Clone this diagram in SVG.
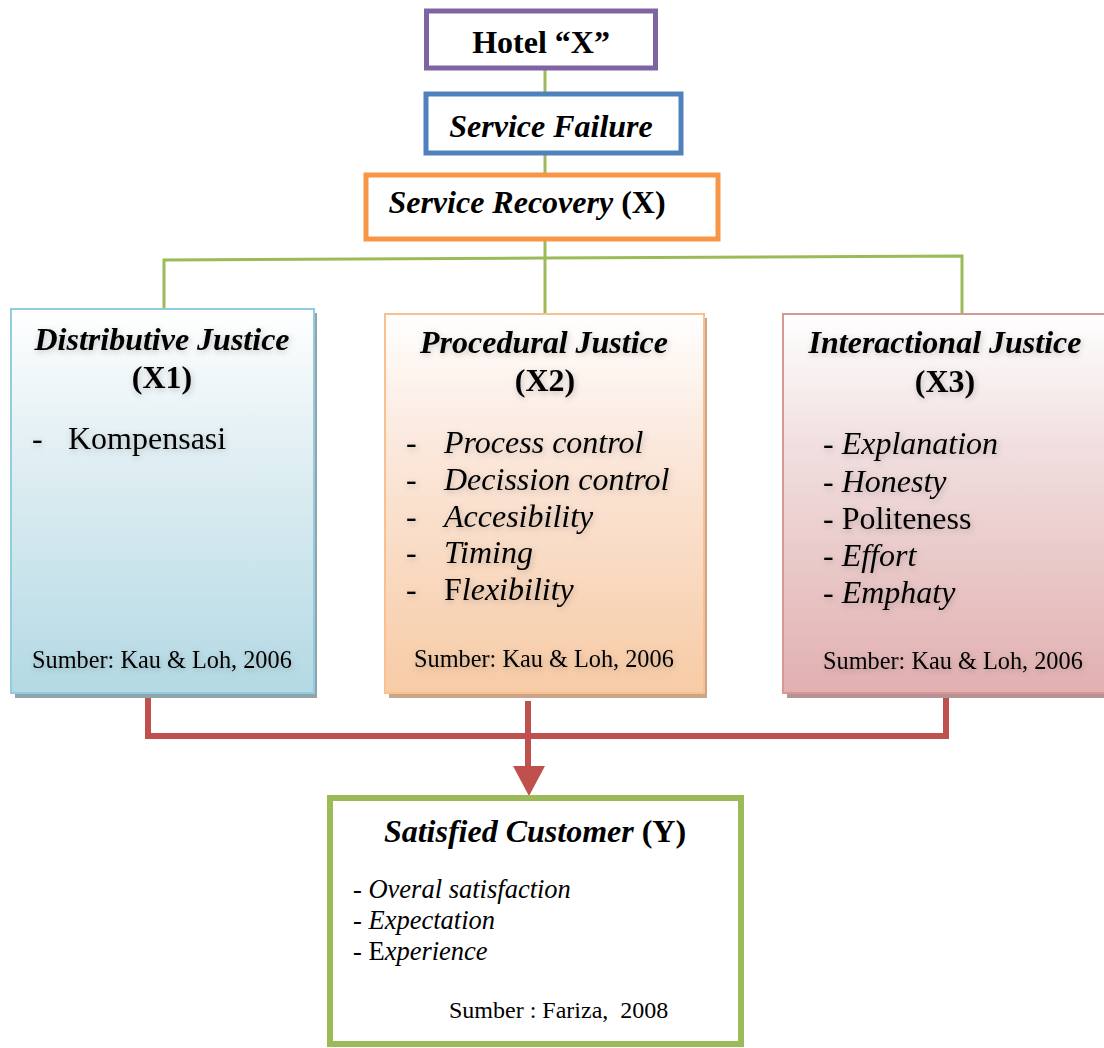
<svg xmlns="http://www.w3.org/2000/svg" width="1104" height="1048" viewBox="0 0 1104 1048">
<defs>
<linearGradient id="gBlue" x1="0" y1="0" x2="0" y2="1"><stop offset="0" stop-color="#ffffff"/><stop offset="0.35" stop-color="#e3f0f4"/><stop offset="1" stop-color="#b3d9e4"/></linearGradient>
<linearGradient id="gOrange" x1="0" y1="0" x2="0" y2="1"><stop offset="0" stop-color="#ffffff"/><stop offset="0.35" stop-color="#fbe8dc"/><stop offset="1" stop-color="#f7cba5"/></linearGradient>
<linearGradient id="gRed" x1="0" y1="0" x2="0" y2="1"><stop offset="0" stop-color="#ffffff"/><stop offset="0.35" stop-color="#f1dfdf"/><stop offset="1" stop-color="#e2b0b0"/></linearGradient>
<filter id="ts" x="-10%" y="-30%" width="120%" height="160%"><feDropShadow dx="1" dy="2" stdDeviation="3" flood-color="#000" flood-opacity="0.22"/></filter>
</defs>
<style>
text{font-family:"Liberation Serif","Times New Roman",serif;fill:#000}
.b{font-weight:bold}
.i{font-style:italic}
.top{font-size:32px}
.hd{font-size:32px}
.li{font-size:32px}
.src{font-size:24.3px}
.sl{font-size:26.5px}
.ss{font-size:24px}
.sh{filter:url(#ts)}
.green{stroke:#9BBB59;stroke-width:3;fill:none}
.red{stroke:#C0504D;stroke-width:6;fill:none}
</style>

<g id="connectors">
<line class="green" x1="545" y1="70" x2="545" y2="92"/>
<line class="green" x1="545" y1="155" x2="545" y2="173"/>
<line class="green" x1="545" y1="240" x2="545" y2="313"/>
<polyline class="green" points="164,308 164,260 545,258 962,256 962,313"/>
<polyline class="red" points="148,693 148,736 946,736 946,693"/>
<line class="red" x1="528" y1="701" x2="528" y2="768"/>
<polygon points="513,766 545,766 529,796" fill="#C0504D"/>
</g>

<g id="hotel">
<rect x="426.5" y="11" width="229" height="57" fill="#fff" stroke="#8064A2" stroke-width="5"/>
<text class="top b" x="541" y="53" text-anchor="middle">Hotel “X”</text>
</g>

<g id="service-failure">
<rect x="426" y="94" width="255" height="59" fill="#fff" stroke="#4F81BD" stroke-width="5"/>
<text class="top b i" x="551" y="137" text-anchor="middle">Service Failure</text>
</g>

<g id="service-recovery">
<rect x="366" y="175" width="352" height="64" fill="#fff" stroke="#F79646" stroke-width="5"/>
<text class="top b" x="527" y="213" text-anchor="middle"><tspan class="i">Service Recovery</tspan> (X)</text>
</g>

<g id="distributive">
<rect x="15" y="313" width="302" height="385" fill="#8fa5ab"/>
<rect x="11" y="309" width="303" height="384" fill="url(#gBlue)" stroke="#93CDDD" stroke-width="2"/>
<g class="sh">
<text class="hd b i" x="162" y="350" text-anchor="middle">Distributive Justice</text>
<text class="hd b" x="162" y="388" text-anchor="middle">(X1)</text>
<text class="li" x="32" y="449">-</text>
<text class="li" x="68" y="449">Kompensasi</text>
<text class="src" x="32" y="668">Sumber: Kau &amp; Loh, 2006</text>
</g>
</g>

<g id="procedural">
<rect x="389" y="318" width="318" height="380" fill="#c9a58a"/>
<rect x="385" y="314" width="319" height="379" fill="url(#gOrange)" stroke="#FAC090" stroke-width="2"/>
<g class="sh">
<text class="hd b i" x="544" y="353" text-anchor="middle">Procedural Justice</text>
<text class="hd b" x="545" y="391" text-anchor="middle">(X2)</text>
<text class="li" x="406" y="453">-</text><text class="li i" x="444" y="453">Process control</text>
<text class="li" x="406" y="490">-</text><text class="li i" x="444" y="490">Decission control</text>
<text class="li" x="406" y="527">-</text><text class="li i" x="444" y="527">Accesibility</text>
<text class="li" x="406" y="563">-</text><text class="li i" x="444" y="563">Timing</text>
<text class="li" x="406" y="600">-</text><text class="li" x="444" y="600">F<tspan class="i">lexibility</tspan></text>
<text class="src" x="414" y="667">Sumber: Kau &amp; Loh, 2006</text>
</g>
</g>

<g id="interactional">
<rect x="787" y="318" width="330" height="380" fill="#b49494"/>
<rect x="783" y="314" width="330" height="379" fill="url(#gRed)" stroke="#D99694" stroke-width="2"/>
<g class="sh">
<text class="hd b i" x="945" y="353" text-anchor="middle">Interactional Justice</text>
<text class="hd b" x="945" y="392" text-anchor="middle">(X3)</text>
<text class="li" x="823" y="454">- <tspan class="i">Explanation</tspan></text>
<text class="li" x="823" y="492">- <tspan class="i">Honesty</tspan></text>
<text class="li" x="823" y="529">- Politeness</text>
<text class="li" x="823" y="566">- <tspan class="i">Effort</tspan></text>
<text class="li" x="823" y="603">- <tspan class="i">Emphaty</tspan></text>
<text class="src" x="823" y="669">Sumber: Kau &amp; Loh, 2006</text>
</g>
</g>

<g id="satisfied">
<rect x="330" y="798" width="411" height="246" fill="#fff" stroke="#9BBB59" stroke-width="6"/>
<text class="hd b" x="535" y="842" text-anchor="middle"><tspan class="i">Satisfied Customer</tspan> (Y)</text>
<text class="sl" x="353" y="898">- <tspan class="i">Overal satisfaction</tspan></text>
<text class="sl" x="353" y="929">- <tspan class="i">Expectation</tspan></text>
<text class="sl" x="353" y="960">- E<tspan class="i">xperience</tspan></text>
<text class="ss" x="449" y="1018" xml:space="preserve">Sumber : Fariza,  2008</text>
</g>
</svg>
